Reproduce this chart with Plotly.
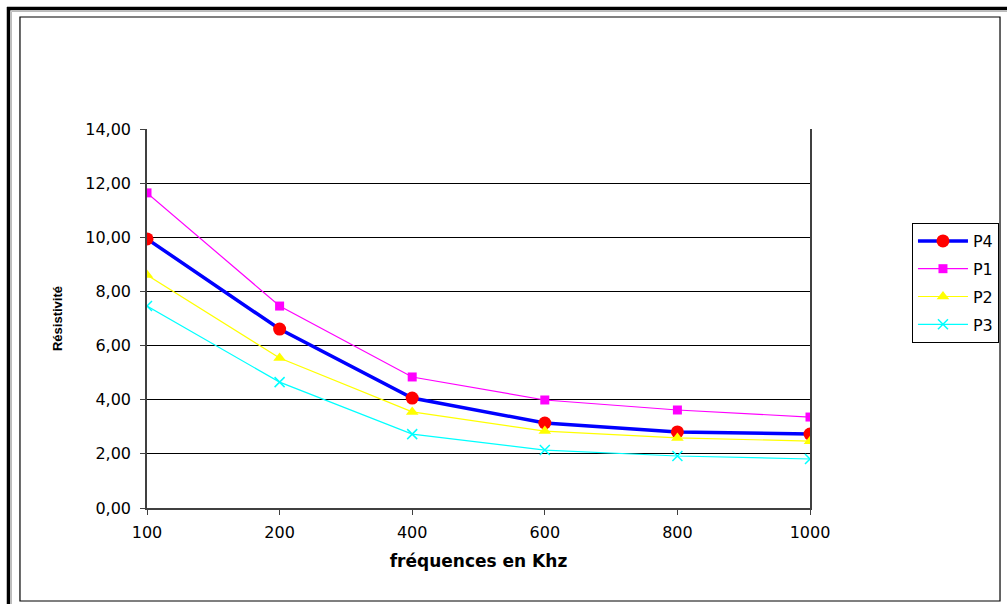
import plotly.graph_objects as go

categories = ["100", "200", "400", "600", "800", "1000"]
p4 = [9.94, 6.61, 4.06, 3.14, 2.81, 2.73]
p1 = [11.64, 7.46, 4.84, 3.99, 3.62, 3.36]
p2 = [8.61, 5.54, 3.55, 2.84, 2.59, 2.47]
p3 = [7.46, 4.65, 2.73, 2.14, 1.92, 1.81]
y_ticks = [0, 2, 4, 6, 8, 10, 12, 14]
y_tick_labels = ["0,00", "2,00", "4,00", "6,00", "8,00", "10,00", "12,00", "14,00"]

xs = list(range(len(categories)))
FONT = "DejaVu Sans, Arial, sans-serif"
FONT2 = "Liberation Sans, Arial, sans-serif"

fig = go.Figure()
fig.add_trace(go.Scatter(x=xs, y=p4, name="P4", mode="lines+markers", legendgroup="a",
                         line=dict(color="#0000FF", width=3.5),
                         marker=dict(symbol="circle", size=13, color="#FF0000")))
fig.add_trace(go.Scatter(x=xs, y=p1, name="P1", mode="lines+markers", legendgroup="b",
                         line=dict(color="#FF00FF", width=1.2),
                         marker=dict(symbol="square", size=9, color="#FF00FF")))
fig.add_trace(go.Scatter(x=xs, y=p2, name="P2", mode="lines+markers", legendgroup="c",
                         line=dict(color="#FFFF00", width=1.2),
                         marker=dict(symbol="triangle-up", size=11, color="#FFFF00")))
fig.add_trace(go.Scatter(x=xs, y=p3, name="P3", mode="lines+markers", legendgroup="d",
                         line=dict(color="#00FFFF", width=1.2),
                         marker=dict(symbol="x-thin", size=10, color="#00FFFF",
                                     line=dict(color="#00FFFF", width=1.5))))

fig.update_layout(
    width=1007, height=604,
    margin=dict(l=147, r=197, t=129, b=96, autoexpand=False),
    paper_bgcolor="white", plot_bgcolor="white",
    font=dict(family=FONT, size=16, color="black"),
    showlegend=True,
    legend=dict(x=1.1538, y=0.7520, xanchor="left", yanchor="top",
                bordercolor="black", borderwidth=1, bgcolor="white",
                font=dict(family=FONT, size=16, color="black"),
                tracegroupgap=4, traceorder="grouped", itemwidth=50),
    xaxis=dict(range=[0, 5], tickvals=xs, ticktext=categories,
               showgrid=False, zeroline=False, showline=True, linecolor="#404040",
               linewidth=1.5, ticks="outside", ticklen=5, tickcolor="#404040",
               tickfont=dict(size=16), ticklabelstandoff=4,
               title=dict(text="<b>fréquences en Khz</b>", font=dict(family=FONT, size=17),
                          standoff=14)),
    yaxis=dict(range=[0, 14], tickvals=y_ticks, ticktext=y_tick_labels,
               showgrid=True, gridcolor="black", gridwidth=1, zeroline=False,
               showline=True, linecolor="#404040", linewidth=1.5, mirror=True,
               ticks="outside", ticklen=5, tickcolor="#404040",
               tickfont=dict(size=16), ticklabelstandoff=6,
               title=dict(text="<b>Résistivité</b>", font=dict(family=FONT2, size=13),
                          standoff=20)),
)

# chart frame (Excel-style border)
fig.add_shape(type="rect", xref="paper", yref="paper", x0=-0.1916, x1=1.2866,
              y0=-0.2454, y1=1.2955, line=dict(color="black", width=1.2), layer="above")
fig.add_shape(type="line", xref="paper", yref="paper", x0=-0.2112, x1=1.3017,
              y0=1.3179, y1=1.3179, line=dict(color="black", width=3.5))
fig.add_shape(type="line", xref="paper", yref="paper", x0=-0.2089, x1=-0.2089,
              y0=1.3219, y1=-0.269, line=dict(color="black", width=3.5))
fig.add_shape(type="line", xref="paper", yref="paper", x0=-0.2044, x1=1.3017,
              y0=1.3100, y1=1.3100, line=dict(color="#BBBBBB", width=1))
fig.add_shape(type="line", xref="paper", yref="paper", x0=-0.2044, x1=-0.2044,
              y0=1.3100, y1=-0.269, line=dict(color="#BBBBBB", width=1))

fig.write_html("out.html")
